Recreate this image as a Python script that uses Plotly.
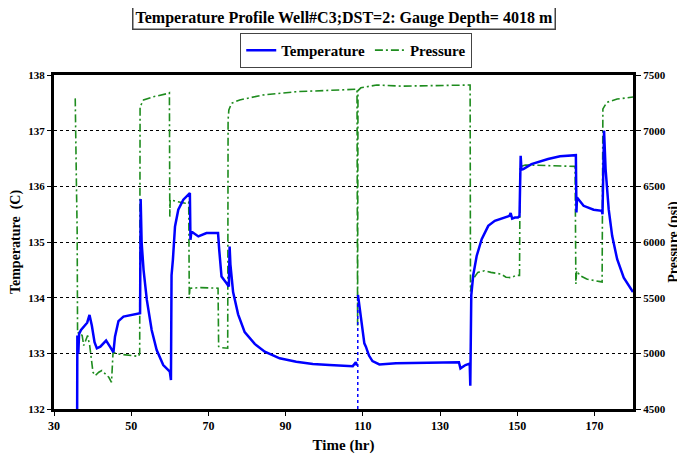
import plotly.graph_objects as go

# ---- data ----
temp_time = [36.0, 36.05, 36.3, 36.5, 37.0, 38.0, 38.6, 39.2, 39.8, 40.5, 41.1, 42.0, 43.5, 44.5,
             45.4, 45.8, 46.7, 48.0, 50.0, 52.3, 52.45, 52.7, 53.2, 54.05, 55.3, 56.6, 58.3, 60.0,
             60.3, 60.45, 60.8, 61.35, 62.2, 63.5, 65.2, 65.35, 65.6, 67.4, 69.5, 72.5, 72.8, 73.4,
             74.7, 75.3, 75.5, 75.7, 76.4, 77.7, 79.4, 82.0, 84.6, 88.45, 92.76, 97.05, 101.35,
             107.4, 108.2, 108.5, None, 108.75, 109.5, 110.4, 110.8, 111.6, 112.5, 114.3, 118.6,
             127.2, 134.9, 135.3, 135.8, 136.6, 137.5, 137.7, 137.85, 138.1, 138.6, 139.5, 140.8,
             142.5, 144.2, 146.8, 148.0, 148.3, 148.7, 149.4, 150.2, 150.6, 150.9, 151.1, 151.6,
             153.7, 158.0, 161.1, 165.2, 165.35, 165.5, 167.2, 169.8, 171.9, 172.1, 172.5, 172.9,
             173.7, 174.6, 175.9, 177.6, 180.0]
temperature = [132.0, 133.32, 133.0, 133.35, 133.42, 133.5, 133.55, 133.69, 133.5, 133.2, 133.09,
               133.12, 133.23, 133.12, 133.02, 133.3, 133.58, 133.66, 133.69, 133.72, 135.77, 135.0,
               134.5, 133.96, 133.42, 133.06, 132.79, 132.67, 132.52, 134.4, 134.68, 135.28, 135.58,
               135.76, 135.88, 135.04, 135.19, 135.1, 135.16, 135.16, 134.86, 134.38, 134.26, 134.2,
               134.92, 134.6, 134.1, 133.7, 133.38, 133.17, 133.03, 132.91, 132.85, 132.81, 132.79,
               132.77, 132.84, 132.78, None, 134.05, 133.66, 133.18, 133.12, 132.96, 132.86, 132.8,
               132.82, 132.83, 132.84, 132.73, 132.75, 132.79, 132.81, 132.8, 132.42, 134.04, 134.4,
               134.75, 135.05, 135.29, 135.38, 135.44, 135.47, 135.52, 135.42, 135.44, 135.44,
               135.47, 136.55, 136.3, 136.31, 136.4, 136.49, 136.54, 136.56, 135.53, 135.8, 135.65,
               135.58, 135.56, 135.5, 137.0, 136.31, 135.59, 135.11, 134.69, 134.36, 134.1]

# thin dotted spike of the temperature gauge at ~108.7 hr
spike_time = [108.7, 108.7]
spike_temp = [132.0, 134.05]

press_time = [35.5, 35.6, 35.7, 35.8, 36.0, 36.1, 36.6, 37.3, 37.7, 38.1, 38.7, 39.25, 39.6, 40.1,
              40.7, 41.6, 42.4, 43.3, 44.2, 44.9, 45.3, 46.3, 48.9, 51.9, 52.2, 52.3, 53.2, 55.8,
              59.6, 59.9, 60.0, 60.1, 62.0, 64.0, 64.9, 65.05, 65.2, 68.0, 72.5, 72.65, 73.5, 75.0,
              75.1, 75.3, 76.0, 78.1, 84.1, 92.7, 101.3, 108.5, 108.65, 108.75, 109.5, 113.6, 120.0,
              126.0, 132.0, 137.8, 137.9, 138.2, 138.9, 139.8, 141.5, 143.2, 145.8, 147.1, 148.4,
              149.7, 150.6, 150.75, 152.1, 154.7, 158.0, 161.1, 165.0, 165.2, 165.4, 166.3, 168.0,
              171.5, 172.0, 172.2, 173.2, 175.9, 179.7, 180.0]
pressure = [7290, 6850, 6700, 6540, 6100, 5180, 5190, 5160, 5070, 5115, 5160, 5070, 4950, 4830,
            4800, 4830, 4845, 4815, 4785, 4740, 5010, 4995, 4985, 4973, 5000, 7216, 7276, 7305,
            7335, 7340, 6228, 6378, 6363, 6348, 6360, 5495, 5585, 5590, 5585, 5061, 5050, 5046,
            7096, 7186, 7246, 7276, 7320, 7350, 7365, 7372, 5250, 7360, 7385, 7410, 7400,
            7405, 7408, 7410, 5555, 5638, 5683, 5727, 5742, 5727, 5712, 5683, 5680,
            5700, 5700, 6677, 6692, 6688, 6685, 6685, 6679, 5623, 5742, 5697, 5667,
            5644, 5640, 7195, 7254, 7284, 7300, 7302]

x_ticks = [30, 50, 70, 90, 110, 130, 150, 170]
temp_ticks = [132, 133, 134, 135, 136, 137, 138]
press_ticks = [4500, 5000, 5500, 6000, 6500, 7000, 7500]

title_text = "Temperature Profile Well#C3;DST=2: Gauge Depth= 4018 m"

SERIF = "Liberation Serif, Times New Roman, serif"

fig = go.Figure()
fig.add_trace(go.Scatter(x=temp_time, y=temperature, name="Temperature", mode="lines",
                         line=dict(color="#0000FF", width=2.5), yaxis="y2", connectgaps=False))
fig.add_trace(go.Scatter(x=press_time, y=pressure, name="Pressure", mode="lines",
                         line=dict(color="#1E8C1E", width=1.6, dash="8px,3px,2px,3px"), yaxis="y"))
fig.add_trace(go.Scatter(x=spike_time, y=spike_temp, mode="lines", showlegend=False,
                         line=dict(color="#0000FF", width=1.5, dash="dot"), yaxis="y2"))

# the page body adds an 8px offset, so the figure is 8px smaller and margins compensate
fig.update_layout(
    width=677, height=451,
    margin=dict(l=46, r=52, t=67, b=50, autoexpand=False),
    paper_bgcolor="white", plot_bgcolor="white",
    font=dict(family=SERIF, color="black"),
    showlegend=True,
    legend=dict(orientation="h", x=0.522, xanchor="center", y=1.126, yanchor="top",
                bordercolor="#444", borderwidth=1, bgcolor="white",
                font=dict(family=SERIF, size=15, color="black", weight="bold"),
                itemwidth=30, traceorder="normal"),
    xaxis=dict(range=[30, 180], tickvals=x_ticks, showgrid=False, zeroline=False,
               automargin=False,
               showline=True, mirror=True, linecolor="black", linewidth=3,
               ticks="outside", ticklen=4, tickcolor="black",
               tickfont=dict(family=SERIF, size=12, color="black", weight="bold"),
               title=dict(text="Time (hr)", standoff=8,
                          font=dict(family=SERIF, size=15, color="black", weight="bold"))),
    yaxis=dict(range=[4500, 7500], tickvals=press_ticks, side="right",
               automargin=False,
               showgrid=True, gridcolor="black", griddash="dot", gridwidth=1, zeroline=False,
               showline=True, linecolor="black", linewidth=3,
               ticks="outside", ticklen=5, tickcolor="black",
               tickfont=dict(family=SERIF, size=11, color="black", weight="bold"),
               title=dict(text="Pressure (psi)", standoff=2,
                          font=dict(family=SERIF, size=14, color="black", weight="bold"))),
    yaxis2=dict(range=[132, 138], tickvals=temp_ticks, side="left", overlaying="y",
                automargin=False,
                showgrid=False, zeroline=False,
                showline=True, linecolor="black", linewidth=3,
                ticks="outside", ticklen=4, tickcolor="black",
                tickfont=dict(family=SERIF, size=11, color="black", weight="bold"),
                title=dict(text="Temperature  (C)", standoff=6,
                           font=dict(family=SERIF, size=14, color="black", weight="bold"))),
    annotations=[dict(text=title_text, xref="paper", yref="paper", x=0.5, y=1.172,
                      xanchor="center", yanchor="middle", showarrow=False,
                      font=dict(family=SERIF, size=16, color="black", weight="bold"),
                      bordercolor="#444", borderwidth=1.5, borderpad=2, bgcolor="white")],
)

fig.write_html("out.html")
